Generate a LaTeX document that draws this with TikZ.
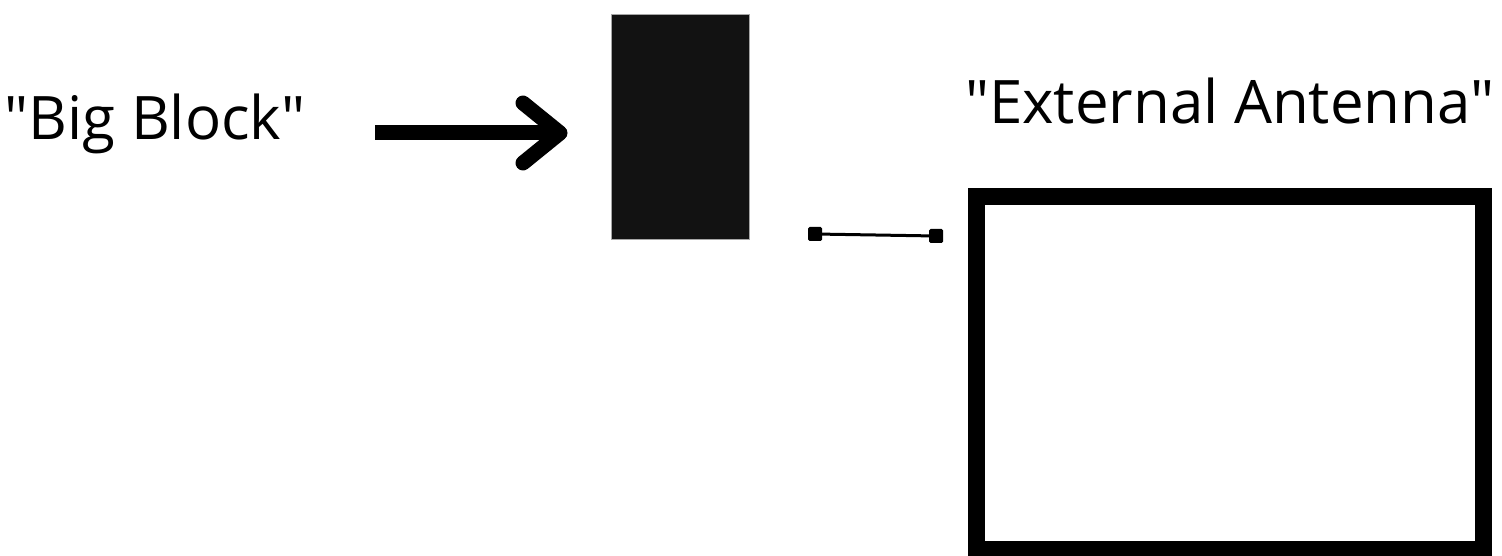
\documentclass[tikz,border=0pt]{standalone}
\usepackage{fontspec}
\setmainfont{Open Sans}
\usetikzlibrary{arrows.meta,calc}
\definecolor{blockfill}{HTML}{121212}
\tikzset{
  label text/.style={font=\fontsize{60}{72}\selectfont, inner sep=0pt, anchor=base},
  endsq/.style={fill=black, rounded corners=1.5pt, minimum size=14pt, inner sep=0pt},
  bigarrow/.style={line width=15pt, line cap=round, line join=round},
}
\begin{document}
\begin{tikzpicture}[x=1pt,y=-1pt]
\useasboundingbox (0,0) rectangle (1502,556);
\node[label text] (big) at (155,140) {\textquotedbl Big Block\textquotedbl};
\node[label text] (ext) at (1230,124) {\textquotedbl External Antenna\textquotedbl};
% arrow
\coordinate (as) at (375,133);
\coordinate (at) at (560,133);
\draw[bigarrow, line cap=butt] (as) -- ($(at)+(-8,0)$);
\draw[bigarrow] (523,103) -- (at) -- (523,163);
% block
\node[draw=gray!70, line width=0.8pt, fill=blockfill, minimum width=138pt, minimum height=225pt, inner sep=0pt] (block) at (680,126.5) {};
% connector
\node[endsq] (c1) at (815,234) {};
\node[endsq] (c2) at (936,236) {};
\draw[line width=3pt] (c1) -- (c2);
% antenna rectangle
\node[draw=black, line width=17pt, minimum width=507pt, minimum height=352pt, inner sep=0pt] (ant) at (1230,373) {};
\end{tikzpicture}
\end{document}
